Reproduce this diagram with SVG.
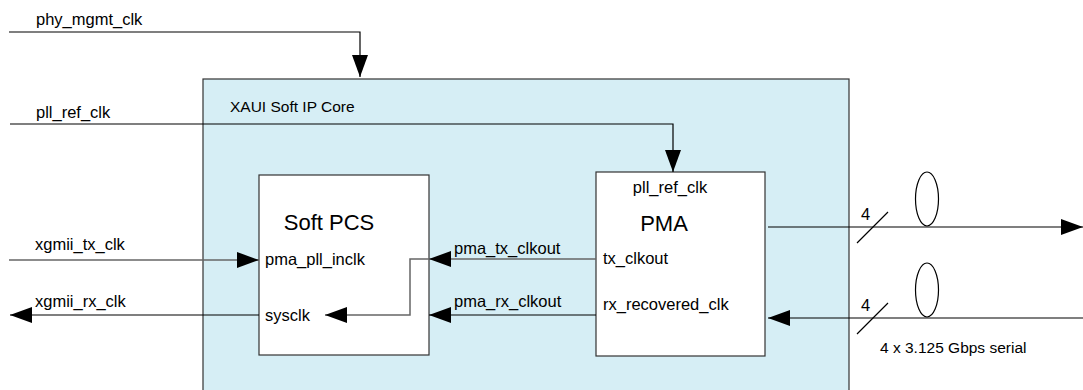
<svg xmlns="http://www.w3.org/2000/svg" width="1083" height="390" viewBox="0 0 1083 390">
<style>
text{font-family:"Liberation Sans",Arial,sans-serif;fill:#000}
.lbl{font-size:16.5px}
.sm{font-size:15.5px}
.big{font-size:22px}
.ln{fill:none;stroke:#000;stroke-width:1.2}
.gr{fill:none;stroke:#666;stroke-width:1.5}
</style>
<defs>
<marker id="ah" viewBox="0 0 22 16" refX="22" refY="8" markerWidth="22" markerHeight="16" markerUnits="userSpaceOnUse" orient="auto">
<path d="M0,0 L22,8 L0,16 Z" fill="#000"/>
</marker>
</defs>
<rect width="1083" height="390" fill="#fff"/>
<g id="xaui-core">
<rect x="203" y="79" width="646" height="320" fill="#d6eef5" stroke="#333" stroke-width="1.2"/>
<text class="sm" x="230" y="112">XAUI Soft IP Core</text>
</g>
<g id="soft-pcs">
<rect x="259" y="175" width="170" height="180" fill="#fff" stroke="#333" stroke-width="1.2"/>
<text class="big" x="329" y="230" text-anchor="middle">Soft PCS</text>
<text class="lbl" x="265" y="265">pma_pll_inclk</text>
<text class="lbl" x="265" y="321">sysclk</text>
</g>
<g id="pma">
<rect x="596" y="172" width="169" height="184" fill="#fff" stroke="#333" stroke-width="1.2"/>
<text class="lbl" x="670" y="193" text-anchor="middle">pll_ref_clk</text>
<text class="big" x="664" y="231" text-anchor="middle">PMA</text>
<text class="lbl" x="603" y="264">tx_clkout</text>
<text class="lbl" x="603" y="310">rx_recovered_clk</text>
</g>
<g id="connectors">
<path class="ln" d="M9,32 H360 V77" marker-end="url(#ah)"/>
<path class="ln" d="M10,124 H673 V172" marker-end="url(#ah)"/>
<path class="gr" d="M9,260 H259" marker-end="url(#ah)"/>
<path class="ln" d="M259,315 H10" marker-end="url(#ah)"/>
<path class="gr" d="M596,259 H429" marker-end="url(#ah)"/>
<path class="gr" d="M429,259 H410 V315 H325" marker-end="url(#ah)"/>
<path class="ln" d="M596,315 H429" marker-end="url(#ah)"/>
<path class="ln" d="M768,227 H1083" marker-end="url(#ah)"/>
<path class="ln" d="M1083,318 H768" marker-end="url(#ah)"/>
<path class="ln" d="M857,243 L888,212 M857,334 L888,303"/>
<ellipse class="ln" cx="927" cy="199" rx="11.5" ry="27"/>
<ellipse class="ln" cx="927" cy="290" rx="11.5" ry="27"/>
</g>
<g id="labels">
<text class="lbl" x="36" y="25">phy_mgmt_clk</text>
<text class="lbl" x="36" y="118">pll_ref_clk</text>
<text class="lbl" x="35" y="250">xgmii_tx_clk</text>
<text class="lbl" x="35" y="307">xgmii_rx_clk</text>
<text class="lbl" x="454" y="254">pma_tx_clkout</text>
<text class="lbl" x="454" y="307">pma_rx_clkout</text>
<text class="lbl" x="861" y="220">4</text>
<text class="lbl" x="861" y="311">4</text>
<text class="sm" x="880" y="353">4 x 3.125 Gbps serial</text>
</g>
</svg>
